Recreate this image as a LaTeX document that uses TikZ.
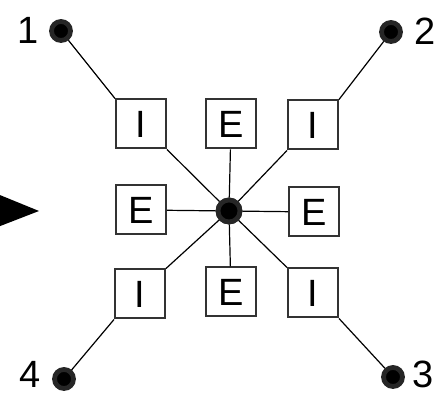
\documentclass[tikz,border=0pt]{standalone}
\usepackage{fontspec}
\setmainfont{Liberation Sans}
\usetikzlibrary{positioning}

\begin{document}
\begin{tikzpicture}[
    x=0.5pt, y=-0.5pt,
    gate/.style={rectangle, draw=black!80, fill=white, line width=1pt, minimum width=25pt, minimum height=24.5pt, inner sep=0pt, font=\fontsize{19}{19}\selectfont},
    pin/.style={circle, draw=black!85, fill=black, line width=2.4pt, minimum size=9.5pt, inner sep=0pt},
    tag/.style={font=\fontsize{19}{19}\selectfont, inner sep=0pt},
    wire/.style={draw=black, line width=0.6pt}
]
    \useasboundingbox (0,0) rectangle (435,394);

    % pointer on the left
    \fill[black] (-10,191) -- (39,211) -- (-10,230) -- cycle;

    % boxes round the hub
    \node[gate] (i1) at (141,124) {I};
    \node[gate] (et) at (231,124) {E};
    \node[gate] (i2) at (313,125) {I};
    \node[gate] (el) at (141,210) {E};
    \node[gate] (er) at (314,212) {E};
    \node[gate] (i4) at (140,294) {I};
    \node[gate] (eb) at (231,292) {E};
    \node[gate] (i3) at (313,293) {I};

    % outer pins
    \node[pin] (p1) at (61,31) {};
    \node[pin] (p2) at (391,32) {};
    \node[pin] (p3) at (393,377) {};
    \node[pin] (p4) at (64,379) {};
    \node[tag] (t1) at (28,30) {1};
    \node[tag] (t2) at (425,31) {2};
    \node[tag] (t3) at (423,374) {3};
    \node[tag] (t4) at (30,374) {4};

    % wires
    \draw[wire] (p1) -- (i1.north west);
    \draw[wire] (p2) -- (i2.north east);
    \draw[wire] (p3) -- (i3.south east);
    \draw[wire] (p4) -- (i4.south west);
    \node[pin, minimum size=11pt] (hub) at (229,211) {};
    \draw[wire] (i1.south east) -- (hub);
    \draw[wire] (i2.south west) -- (hub);
    \draw[wire] (i3.north west) -- (hub);
    \draw[wire] (i4.north east) -- (hub);
    \draw[wire] (et) -- (hub);
    \draw[wire] (el) -- (hub);
    \draw[wire] (er) -- (hub);
    \draw[wire] (eb) -- (hub);
    \node[pin, minimum size=11pt] at (hub) {};
\end{tikzpicture}
\end{document}
